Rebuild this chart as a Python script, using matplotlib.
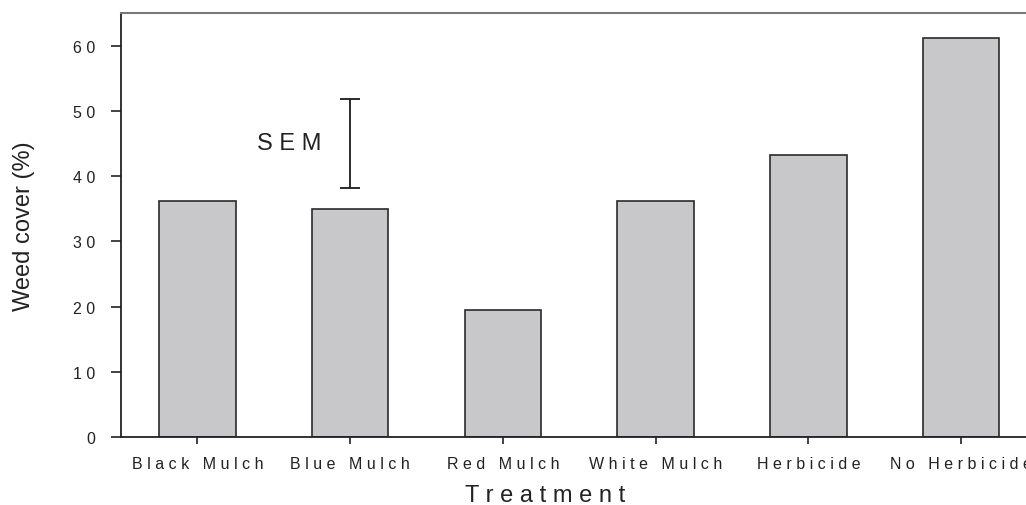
import matplotlib
matplotlib.use("Agg")
from matplotlib import pyplot as plt
import numpy as np

plt.rcParams['font.family'] = ['Liberation Sans', 'DejaVu Sans']

# Treatments and mean weed cover
treatments = ["Black Mulch", "Blue Mulch", "Red Mulch", "White Mulch", "Herbicide", "No Herbicide"]
weed_cover = [36.2, 35.0, 19.5, 36.2, 43.3, 61.2]
yticks = [0, 10, 20, 30, 40, 50, 60]

# SEM bar drawn over the second treatment
sem_center = 45.0
sem_half = 6.8
sem_pos = 1


def spaced(s):
    # wide tracking on labels
    return " ".join(s)


fig = plt.figure(figsize=(10.26, 5.06), dpi=100)
ax = fig.add_axes([0.1179, 0.1344, 0.8933, 0.838])

x = np.arange(len(treatments))
ax.bar(x, weed_cover, width=0.5, color='#c8c8ca', edgecolor='#2a2a2a', linewidth=1.2, zorder=2)

ax.errorbar([sem_pos], [sem_center], yerr=[sem_half], fmt='none', ecolor='#1a1a1a',
            elinewidth=1.3, capsize=7.5, capthick=1.3, zorder=3)
ax.text(sem_pos - 0.19, sem_center, spaced("SEM"), fontsize=17, ha='right', va='center', color='#222222')

ax.set_xlim(-0.5, 5.5)
ax.set_ylim(0, 65)
ax.set_yticks(yticks)
ax.set_yticklabels([spaced(str(v)) for v in yticks], fontsize=11.5, color='#222222')
ax.set_xticks(x)
ax.set_xticklabels([spaced(t) for t in treatments], fontsize=11.5, color='#222222')

ax.tick_params(axis='y', direction='out', length=7.5, width=1.2, pad=11, color='#222222')
ax.tick_params(axis='x', direction='out', length=5, width=1.2, pad=9, color='#222222')

ax.spines['right'].set_visible(False)
ax.spines['top'].set_color('#777777')
ax.spines['top'].set_linewidth(1.5)
for side in ['left', 'bottom']:
    ax.spines[side].set_color('#222222')
    ax.spines[side].set_linewidth(1.3)

ax.set_ylabel('Weed cover (%)', fontsize=17, color='#222222')
ax.yaxis.set_label_coords(-0.094, 0.5)
ax.set_xlabel(spaced('Treatment'), fontsize=17, color='#222222', va='baseline')
ax.xaxis.set_label_coords(0.4626, -0.151)

fig.savefig('out.png', dpi=100)
